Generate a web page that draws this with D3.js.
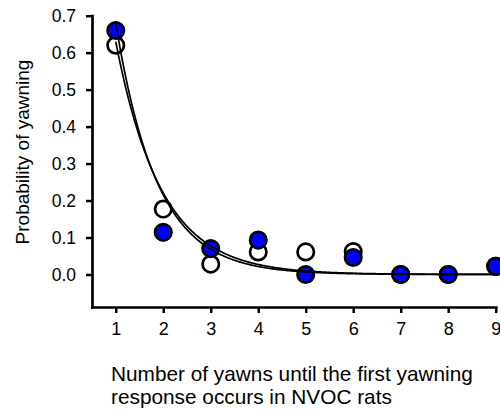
<!DOCTYPE html>
<html>
<head>
<meta charset="utf-8">
<script src="https://cdn.jsdelivr.net/npm/d3@7"></script>
<style>
  html, body { margin: 0; padding: 0; background: #fff; }
  svg { display: block; }
  text { font-family: "Liberation Sans", Arial, sans-serif; fill: #000; }
</style>
</head>
<body>
<svg id="chart" width="500" height="412"></svg>
<script>
// ---- data ----
const yawnCounts = [1, 2, 3, 4, 5, 6, 7, 8, 9];
const filledProb = [0.66, 0.114, 0.070, 0.093, 0.0, 0.046, 0.0, 0.0, 0.022];
const openProb   = [0.62, 0.177, 0.028, 0.061, 0.061, 0.062, 0.0, 0.0, 0.022];
const yTickValues = [0.0, 0.1, 0.2, 0.3, 0.4, 0.5, 0.6, 0.7];
const xTickValues = [1, 2, 3, 4, 5, 6, 7, 8, 9];
// exponential-decay fit parameters (amplitude at x=1, rate)
const fitFilled = { a: 0.68, k: 1.15 };
const fitOpen   = { a: 0.63, k: 1.05 };
const xTitleLines = ["Number of yawns until the first yawning", "response occurs in NVOC rats"];
const yTitle = "Probability of yawning";

// ---- layout ----
const svg = d3.select("#chart");
const x = d3.scaleLinear().domain([0.5, 9]).range([92, 495.7]);
const y = d3.scaleLinear().domain([-0.088, 0.7]).range([307, 15.7]);

// axes
const yAxis = d3.axisLeft(y).tickValues(yTickValues).tickFormat(d3.format(".1f"))
  .tickSize(6).tickSizeOuter(0).tickPadding(10);
const xAxis = d3.axisBottom(x).tickValues(xTickValues).tickFormat(d3.format("d"))
  .tickSize(6).tickSizeOuter(0).tickPadding(9);

const gy = svg.append("g").attr("transform", `translate(${x(0.5)},0)`).call(yAxis);
const gx = svg.append("g").attr("transform", `translate(0,${y(-0.088)})`).call(xAxis);
[gx, gy].forEach(g => {
  g.selectAll("path.domain").attr("stroke", "#000").attr("stroke-width", 2.7).attr("stroke-linecap", "square");
  g.selectAll(".tick line").attr("stroke", "#000").attr("stroke-width", 2.5);
  g.selectAll(".tick text").attr("font-family", "Liberation Sans, Arial, sans-serif").attr("fill", "#000");
});
gy.selectAll(".tick text").attr("font-size", 17.5);
gx.selectAll(".tick text").attr("font-size", 18);

// titles
svg.append("text")
  .attr("transform", `translate(29,152) rotate(-90)`)
  .attr("text-anchor", "middle")
  .attr("font-size", 19)
  .text(yTitle);

svg.append("text")
  .attr("x", 111).attr("y", 381)
  .attr("font-size", 20.8)
  .text(xTitleLines[0]);
svg.append("text")
  .attr("x", 111).attr("y", 404)
  .attr("font-size", 20.8)
  .text(xTitleLines[1]);

// points: open first, filled on top
const openPts = yawnCounts.map((c, i) => ({ c, p: openProb[i] }));
const filledPts = yawnCounts.map((c, i) => ({ c, p: filledProb[i] }));

svg.append("g").selectAll("circle").data(openPts).join("circle")
  .attr("cx", d => x(d.c)).attr("cy", d => y(d.p)).attr("r", 8.2)
  .attr("fill", "#fff").attr("stroke", "#000").attr("stroke-width", 2.7);
svg.append("g").selectAll("circle").data(filledPts).join("circle")
  .attr("cx", d => x(d.c)).attr("cy", d => y(d.p)).attr("r", 8.2)
  .attr("fill", "#0000ff").attr("stroke", "#000").attr("stroke-width", 2.7);

// fitted curves drawn on top
const curveXs = d3.range(1, 9.0001, 0.02);
const line = d3.line().x(d => x(d[0])).y(d => y(d[1])).curve(d3.curveLinear);
[fitFilled, fitOpen].forEach(f => {
  const pts = curveXs.map(v => [v, f.a * Math.exp(-f.k * (v - 1))]);
  svg.append("path").datum(pts).attr("d", line)
    .attr("fill", "none").attr("stroke", "#000").attr("stroke-width", 1.7);
});
</script>
</body>
</html>
